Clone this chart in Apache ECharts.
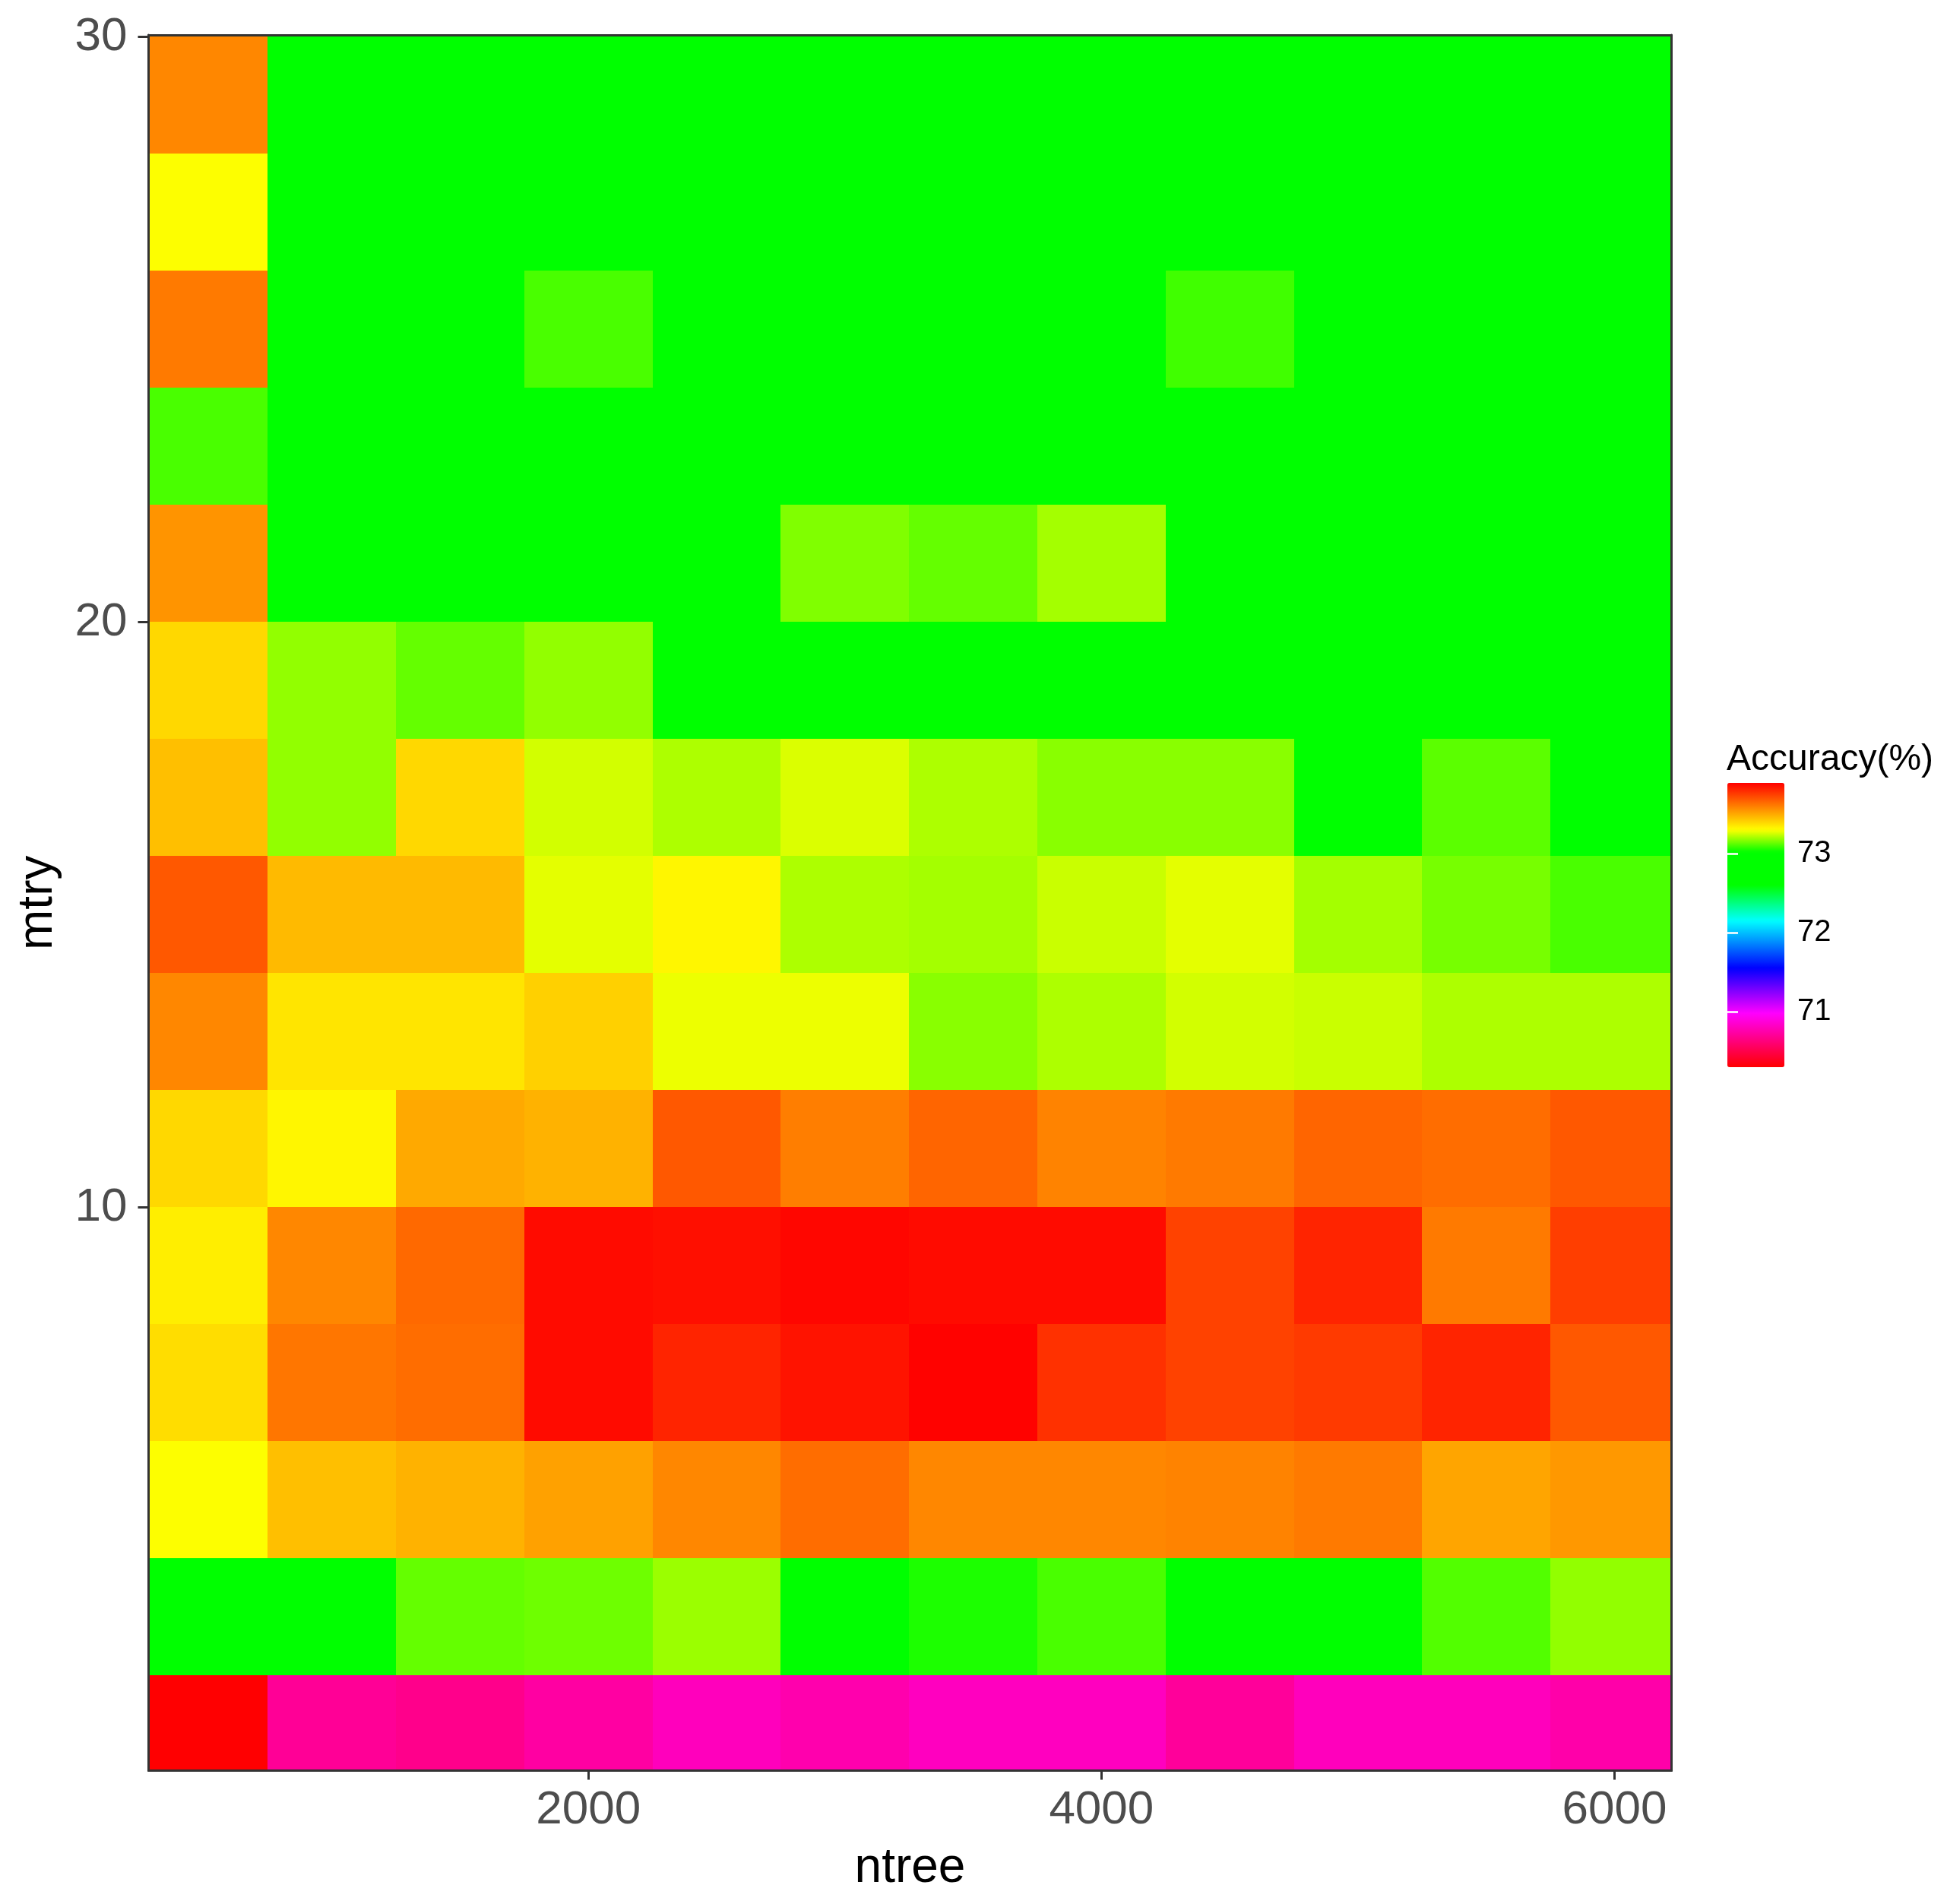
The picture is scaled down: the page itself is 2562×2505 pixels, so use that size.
<!DOCTYPE html>
<html>
<head>
<meta charset="utf-8">
<script src="https://cdn.jsdelivr.net/npm/echarts@6/dist/echarts.min.js"></script>
<style>
html,body{margin:0;padding:0;background:#ffffff;}
#chart{width:2562px;height:2505px;}
</style>
</head>
<body>
<div id="chart"></div>
<script>
// ---------- data ----------
const ntree = [500, 1000, 1500, 2000, 2500, 3000, 3500, 4000, 4500, 5000, 5500, 6000];
const mtry  = [1, 3, 5, 7, 9, 11, 13, 15, 17, 19, 21, 23, 25, 27, 29];

// accuracy (%) per mtry row, one value per ntree column
const acc_m1  = [70.30, 70.70, 70.67, 70.73, 70.80, 70.76, 70.81, 70.81, 70.71, 70.80, 70.80, 70.75];
const acc_m3  = [72.85, 72.85, 73.13, 73.14, 73.19, 72.85, 73.05, 73.10, 72.85, 72.85, 73.11, 73.18];
const acc_m5  = [73.30, 73.45, 73.48, 73.52, 73.58, 73.64, 73.58, 73.58, 73.59, 73.61, 73.51, 73.54];
const acc_m7  = [73.38, 73.62, 73.64, 73.87, 73.81, 73.85, 73.89, 73.78, 73.74, 73.76, 73.81, 73.69];
const acc_m9  = [73.34, 73.58, 73.65, 73.87, 73.86, 73.88, 73.87, 73.87, 73.74, 73.81, 73.61, 73.75];
const acc_m11 = [73.39, 73.32, 73.50, 73.48, 73.69, 73.60, 73.66, 73.59, 73.61, 73.66, 73.64, 73.69];
const acc_m13 = [73.58, 73.36, 73.36, 73.41, 73.28, 73.28, 73.17, 73.21, 73.25, 73.24, 73.21, 73.21];
const acc_m15 = [73.69, 73.46, 73.46, 73.27, 73.32, 73.21, 73.20, 73.24, 73.27, 73.20, 73.15, 73.10];
const acc_m17 = [73.45, 73.18, 73.39, 73.25, 73.21, 73.26, 73.21, 73.17, 73.17, 72.85, 73.12, 72.85];
const acc_m19 = [73.39, 73.18, 73.13, 73.18, 72.85, 72.85, 72.85, 72.85, 72.85, 72.85, 72.85, 72.85];
const acc_m21 = [73.55, 72.85, 72.85, 72.85, 72.85, 73.16, 73.13, 73.20, 72.85, 72.85, 72.85, 72.85];
const acc_m23 = [73.10, 72.85, 72.85, 72.85, 72.85, 72.85, 72.85, 72.85, 72.85, 72.85, 72.85, 72.85];
const acc_m25 = [73.61, 72.85, 72.85, 73.10, 72.85, 72.85, 72.85, 72.85, 73.09, 72.85, 72.85, 72.85];
const acc_m27 = [73.30, 72.85, 72.85, 72.85, 72.85, 72.85, 72.85, 72.85, 72.85, 72.85, 72.85, 72.85];
const acc_m29 = [73.58, 72.85, 72.85, 72.85, 72.85, 72.85, 72.85, 72.85, 72.85, 72.85, 72.85, 72.85];

const xTicks = [2000, 4000, 6000];
const yTicks = [10, 20, 30];
const legendTicks = [71, 72, 73];

// axis / colour-scale limits
const xMin = 286, xMax = 6222;
const yMin = 0.376, yMax = 30.032;
const accMin = 70.298, accMax = 73.894;

// ---------- build ----------
const rows = [acc_m1, acc_m3, acc_m5, acc_m7, acc_m9, acc_m11, acc_m13, acc_m15,
              acc_m17, acc_m19, acc_m21, acc_m23, acc_m25, acc_m27, acc_m29];
const data = [];
rows.forEach((row, i) => row.forEach((v, j) => data.push([ntree[j], mtry[i], v])));
const xStep = ntree[1] - ntree[0];
const yStep = mtry[1] - mtry[0];

// colour ramp (hue wheel)
const colorStops = [
  [70.298, '#ff0000'], [70.98, '#ff00ff'], [71.55, '#0000ff'], [72.15, '#00ffff'],
  [72.60, '#00ff00'], [73.02, '#00ff00'], [73.30, '#ffff00'], [73.894, '#ff0000']
];
function hex2rgb(h) { return [1, 3, 5].map(i => parseInt(h.slice(i, i + 2), 16)); }
const palette = [];
const N = 360;
for (let k = 0; k <= N; k++) {
  const v = accMin + (accMax - accMin) * k / N;
  let s = 0;
  while (s < colorStops.length - 2 && v > colorStops[s + 1][0]) s++;
  const a = colorStops[s], b = colorStops[s + 1];
  const t = Math.max(0, Math.min(1, (v - a[0]) / (b[0] - a[0])));
  const ca = hex2rgb(a[1]), cb = hex2rgb(b[1]);
  const c = ca.map((x, i) => Math.round(x + (cb[i] - x) * t));
  palette.push('rgb(' + c.join(',') + ')');
}

const FONT = '"Liberation Sans", Arial, sans-serif';
const BORDER = '#333333';
const plain = v => String(v);

function renderItem(params, api) {
  const x = api.value(0), y = api.value(1);
  const p0 = api.coord([x - xStep / 2, y + yStep / 2]);
  const p1 = api.coord([x + xStep / 2, y - yStep / 2]);
  const cs = params.coordSys;
  let x0 = Math.max(Math.min(p0[0], p1[0]), cs.x);
  let x1 = Math.min(Math.max(p0[0], p1[0]), cs.x + cs.width);
  let y0 = Math.max(Math.min(p0[1], p1[1]), cs.y);
  let y1 = Math.min(Math.max(p0[1], p1[1]), cs.y + cs.height);
  if (x1 <= x0 || y1 <= y0) return null;
  x0 = Math.round(x0); x1 = Math.round(x1); y0 = Math.round(y0); y1 = Math.round(y1);
  return {
    type: 'rect',
    shape: { x: x0, y: y0, width: x1 - x0, height: y1 - y0 },
    style: { fill: api.visual('color') }
  };
}

const chart = echarts.init(document.getElementById('chart'), null, { renderer: 'canvas' });
chart.setOption({
  animation: false,
  backgroundColor: '#ffffff',
  title: {
    text: 'Accuracy(%)', left: 2272, top: 976, padding: 0,
    textStyle: { fontSize: 48, fontWeight: 'normal', color: '#000000', fontFamily: FONT }
  },
  grid: [
    { left: 195.5, top: 46, width: 2004, height: 2283.5, show: false },
    { left: 2273, top: 1030, width: 75, height: 374, show: false }
  ],
  xAxis: [
    {
      type: 'value', gridIndex: 0, min: xMin, max: xMax, position: 'bottom', z: 10,
      axisLine: { show: true, onZero: false, lineStyle: { color: BORDER, width: 3 } },
      axisTick: { show: true, customValues: xTicks, length: 12, lineStyle: { color: BORDER, width: 3 } },
      axisLabel: { customValues: xTicks, formatter: plain, fontSize: 62, color: '#4d4d4d', margin: 21, fontFamily: FONT },
      splitLine: { show: false },
      name: 'ntree', nameLocation: 'middle', nameGap: 97,
      nameTextStyle: { fontSize: 64, color: '#000000', fontFamily: FONT }
    },
    {
      type: 'value', gridIndex: 0, min: xMin, max: xMax, position: 'top', z: 10,
      axisLine: { show: true, onZero: false, lineStyle: { color: BORDER, width: 3 } },
      axisTick: { show: false }, axisLabel: { show: false }, splitLine: { show: false }
    },
    { type: 'value', gridIndex: 1, min: 0, max: 1, show: false }
  ],
  yAxis: [
    {
      type: 'value', gridIndex: 0, min: yMin, max: yMax, position: 'left', z: 10,
      axisLine: { show: true, onZero: false, lineStyle: { color: BORDER, width: 3 } },
      axisTick: { show: true, customValues: yTicks, length: 14, lineStyle: { color: BORDER, width: 3 } },
      axisLabel: { customValues: yTicks, formatter: plain, fontSize: 62, color: '#4d4d4d', margin: 28, fontFamily: FONT },
      splitLine: { show: false },
      name: 'mtry', nameLocation: 'middle', nameGap: 113, nameRotate: 90,
      nameTextStyle: { fontSize: 64, color: '#000000', fontFamily: FONT }
    },
    {
      type: 'value', gridIndex: 0, min: yMin, max: yMax, position: 'right', z: 10,
      axisLine: { show: true, onZero: false, lineStyle: { color: BORDER, width: 3 } },
      axisTick: { show: false }, axisLabel: { show: false }, splitLine: { show: false }
    },
    {
      type: 'value', gridIndex: 1, min: accMin, max: accMax, position: 'right', z: 10,
      axisLine: { show: false },
      axisTick: { show: true, inside: true, customValues: legendTicks, length: 14, lineStyle: { color: '#ffffff', width: 2.5 } },
      axisLabel: { customValues: legendTicks, formatter: plain, fontSize: 40, color: '#000000', margin: 17, fontFamily: FONT },
      splitLine: { show: false }
    },
    {
      type: 'value', gridIndex: 1, min: accMin, max: accMax, position: 'left', z: 10,
      axisLine: { show: false },
      axisTick: { show: true, inside: true, customValues: legendTicks, length: 14, lineStyle: { color: '#ffffff', width: 2.5 } },
      axisLabel: { show: false },
      splitLine: { show: false }
    }
  ],
  visualMap: {
    type: 'continuous', seriesIndex: 0, dimension: 2,
    min: accMin, max: accMax, calculable: false, realtime: false, hoverLink: false,
    orient: 'vertical', left: 2273, top: 1030, itemWidth: 75, itemHeight: 374, padding: 0,
    inRange: { color: palette }
  },
  series: [{
    type: 'custom', xAxisIndex: 0, yAxisIndex: 0,
    renderItem: renderItem,
    encode: { x: 0, y: 1 },
    data: data,
    z: 2
  }]
});
</script>
</body>
</html>
